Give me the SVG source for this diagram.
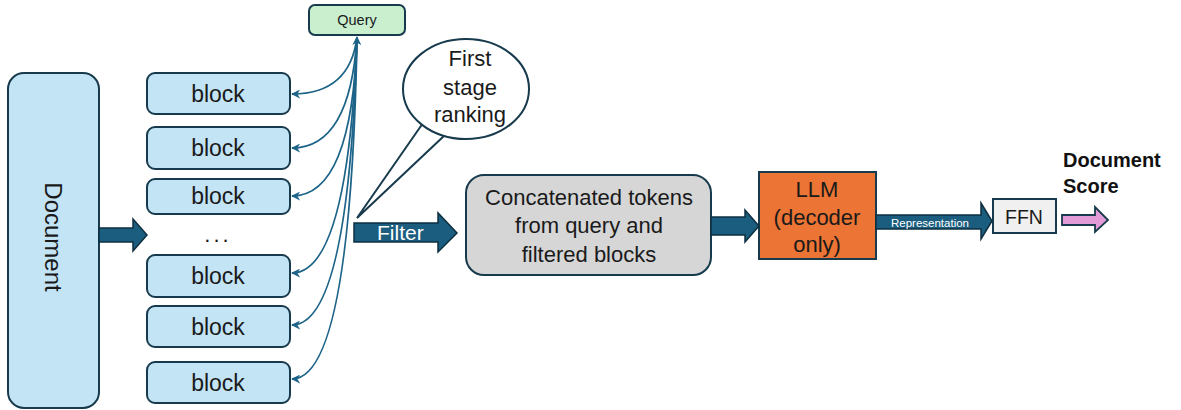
<svg xmlns="http://www.w3.org/2000/svg" width="1181" height="410" viewBox="0 0 1181 410">
<defs>
<style>
.t{font-family:"Liberation Sans",Arial,sans-serif;fill:#1a1a1a;text-anchor:middle}
.blk{fill:#c3e4f5;stroke:#173a4c;stroke-width:2}
.arr{fill:#1b5d7e;stroke:#0e2f40;stroke-width:1.5}
.con{fill:none;stroke:#1d6488;stroke-width:1.8}
.w{font-family:"Liberation Sans",Arial,sans-serif;fill:#ffffff}
</style>
<marker id="ah" viewBox="0 0 10 10" refX="9" refY="5" markerWidth="9" markerHeight="9" markerUnits="userSpaceOnUse" orient="auto-start-reverse">
<path d="M0,0 L10,5 L0,10 L3,5 Z" fill="#1d6488"/>
</marker>
</defs>
<rect width="1181" height="410" fill="#ffffff"/>

<g id="document">
<rect class="blk" x="8" y="73" width="91" height="335" rx="16"/>
<text class="t" font-size="24" transform="translate(45,237) rotate(90)" text-anchor="middle">Document</text>
</g>

<g id="block1"><rect class="blk" x="147" y="73" width="143" height="41" rx="8"/><text class="t" font-size="23" x="218" y="102">block</text></g>
<g id="block2"><rect class="blk" x="147" y="127" width="143" height="42" rx="8"/><text class="t" font-size="23" x="218" y="156">block</text></g>
<g id="block3"><rect class="blk" x="147" y="179" width="143" height="35" rx="8"/><text class="t" font-size="23" x="218" y="204">block</text></g>
<g id="dots"><text class="t" font-size="22" x="218" y="242" letter-spacing="3">...</text></g>
<g id="block4"><rect class="blk" x="147" y="255" width="143" height="42" rx="8"/><text class="t" font-size="23" x="218" y="284">block</text></g>
<g id="block5"><rect class="blk" x="147" y="306" width="143" height="41" rx="8"/><text class="t" font-size="23" x="218" y="335">block</text></g>
<g id="block6"><rect class="blk" x="147" y="362" width="143" height="41" rx="8"/><text class="t" font-size="23" x="218" y="391">block</text></g>

<g id="query">
<rect x="309" y="5" width="96" height="30" rx="6" fill="#c9efcf" stroke="#173a4c" stroke-width="2"/>
<text class="t" font-size="14.5" x="357" y="25">Query</text>
</g>

<g id="bubble">
<path d="M423,123 L357,218 L445,135" fill="#ffffff" stroke="#173a4c" stroke-width="2" stroke-linejoin="miter"/>
<ellipse cx="466" cy="89" rx="63" ry="50" fill="#ffffff" stroke="#173a4c" stroke-width="2"/>
<path d="M425,121 L445,133" stroke="#ffffff" stroke-width="4"/>
<text class="t" font-size="22" x="470" y="66">First</text>
<text class="t" font-size="22" x="470" y="95">stage</text>
<text class="t" font-size="22" x="470" y="122">ranking</text>
</g>

<g id="concat">
<rect x="466" y="175" width="245" height="100" rx="18" fill="#d6d6d6" stroke="#173a4c" stroke-width="2"/>
<text class="t" font-size="22" x="589" y="205">Concatenated tokens</text>
<text class="t" font-size="22" x="589" y="233">from query and</text>
<text class="t" font-size="22" x="589" y="262">filtered blocks</text>
</g>

<g id="llm">
<rect x="759" y="172" width="117" height="87" fill="#ec7434" stroke="#173a4c" stroke-width="2"/>
<text class="t" font-size="22" x="817" y="197">LLM</text>
<text class="t" font-size="22" x="817" y="225">(decoder</text>
<text class="t" font-size="22" x="817" y="252">only)</text>
</g>

<g id="ffn">
<rect x="993" y="199" width="63" height="34" fill="#f0f0f0" stroke="#173a4c" stroke-width="2"/>
<text class="t" font-size="19.5" x="1024" y="224">FFN</text>
</g>

<g id="score">
<text font-family="Liberation Sans,Arial,sans-serif" font-weight="bold" font-size="20" fill="#111" x="1063" y="167">Document</text>
<text font-family="Liberation Sans,Arial,sans-serif" font-weight="bold" font-size="20" fill="#111" x="1063" y="193">Score</text>
</g>

<g id="connectors">
<polygon class="arr" points="99,228 133,228 133,219 147,235 133,251 133,242 99,242"/>
<polygon class="arr" points="354,223 438,223 438,213 457,233 438,252 438,242 354,242"/>
<text class="w" font-size="21" x="377" y="240">Filter</text>
<polygon class="arr" points="711,217 745,217 745,210 759,226 745,242 745,235 711,235"/>
<polygon class="arr" points="876,215 981,215 981,203 992,221 981,239 981,229 876,229"/>
<text class="w" font-size="11.5" x="930" y="227" text-anchor="middle">Representation</text>
<polygon points="1062,215 1095,215 1095,207 1108,220 1095,232 1095,225 1062,225" fill="#e39bd8" stroke="#173a4c" stroke-width="1.8"/>
<path class="con" d="M357,37 Q350,94 292,94" marker-end="url(#ah)"/>
<path class="con" d="M357,37 Q350,148 292,148" marker-end="url(#ah)"/>
<path class="con" d="M357,37 Q352,196 292,196" marker-end="url(#ah)"/>
<path class="con" d="M357,37 Q348,273 292,273" marker-end="url(#ah)"/>
<path class="con" d="M357,37 Q349,325 292,325" marker-end="url(#ah)"/>
<path class="con" d="M357,37 Q351,379 292,379" marker-start="url(#ah)" marker-end="url(#ah)"/>
</g>
</svg>
